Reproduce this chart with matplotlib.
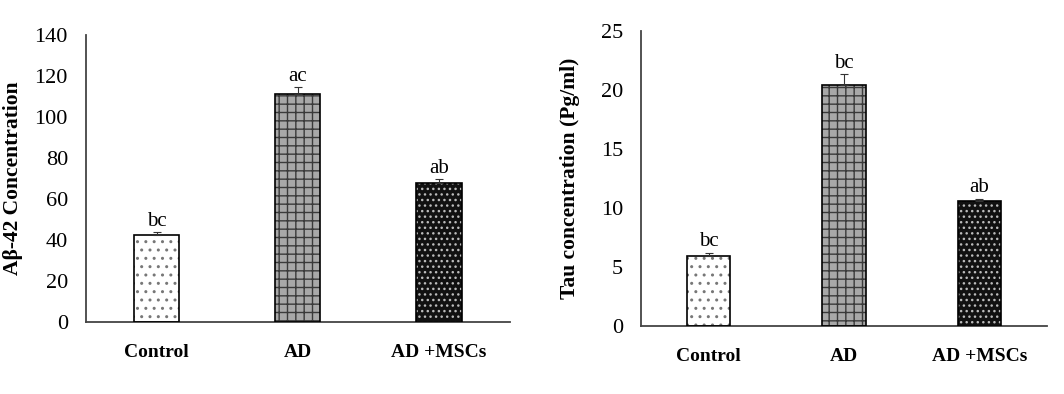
import matplotlib.pyplot as plt
import numpy as np

plt.rcParams['font.family'] = ['Liberation Serif', 'DejaVu Serif']

groups = ["Control", "AD", "AD +MSCs"]

abeta = [42.3, 111.2, 68.0]
abeta_err = [1.5, 3.5, 1.8]
abeta_letters = ["bc", "ac", "ab"]

tau = [5.95, 20.45, 10.6]
tau_err = [0.25, 0.9, 0.2]
tau_letters = ["bc", "bc", "ab"]

# bar look: face, hatch, hatch colour
faces = ["white", "#a8a8a8", "#111111"]
hatches = ["..", "++", "..."]
hatch_cols = ["#777777", "#3a3a3a", "#bbbbbb"]

fig = plt.figure(figsize=(10.64, 3.94), dpi=100)
ax1 = fig.add_axes([0.0808, 0.1827, 0.479 - 0.0808, 0.911 - 0.1827])
ax2 = fig.add_axes([0.6024, 0.1726, 0.984 - 0.6024, 0.921 - 0.1726])


def draw(ax, vals, errs, letters, ymax, step, ylabel, labx):
    x = np.arange(len(groups))
    w = 0.32
    for i in range(len(groups)):
        ax.bar(x[i], vals[i], w, color=faces[i], edgecolor=hatch_cols[i],
               hatch=hatches[i], linewidth=0, zorder=2)
    ax.bar(x, vals, w, fill=False, edgecolor="black", linewidth=1.2, zorder=3)
    ax.errorbar(x, vals, yerr=[np.zeros(len(vals)), errs], fmt="none",
                ecolor="#333333", elinewidth=0.8, capsize=3, capthick=0.8, zorder=4)
    for i in range(len(groups)):
        ax.annotate(letters[i], (x[i], vals[i] + errs[i]), xytext=(0, 1),
                    textcoords="offset points", ha="center", va="bottom", fontsize=15)
    ax.set_xlim(-0.5, 2.5)
    ax.set_ylim(0, ymax)
    ax.set_yticks(np.arange(0, ymax + step / 2, step))
    ax.set_xticks(x)
    ax.set_xticklabels(groups, fontsize=14, fontweight="bold")
    ax.tick_params(axis="x", length=0, pad=16)
    ax.tick_params(axis="y", length=0, pad=13, labelsize=16)
    for s in ["top", "right"]:
        ax.spines[s].set_visible(False)
    for s in ["left", "bottom"]:
        ax.spines[s].set_color("#444444")
        ax.spines[s].set_linewidth(1.3)
    ax.set_ylabel(ylabel, fontsize=15.5, fontweight="bold")
    ax.yaxis.set_label_coords(labx, 0.5)


draw(ax1, abeta, abeta_err, abeta_letters, 140, 20, "Aβ-42 Concentration", -0.149)
draw(ax2, tau, tau_err, tau_letters, 25, 5, "Tau concentration (Pg/ml)", -0.150)

fig.savefig("out.png", dpi=100)
